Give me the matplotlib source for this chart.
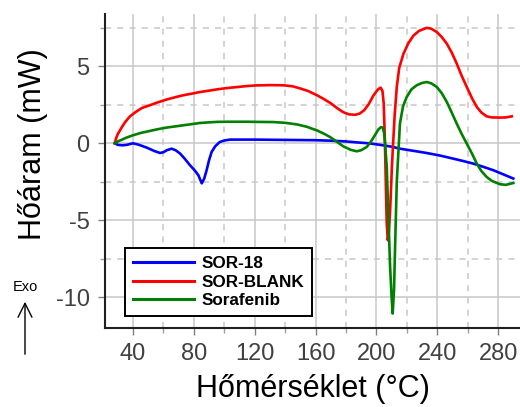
import matplotlib.pyplot as plt
from matplotlib.ticker import MultipleLocator

plt.rcParams['font.family'] = ['Liberation Sans', 'DejaVu Sans']
plt.rcParams['axes.unicode_minus'] = False

# SOR-18
sor18_t = [28, 30, 33, 36, 40, 44, 49, 54, 57.8, 60, 62.2, 65.4, 68, 71, 74, 77.5,
           80.5, 83, 85.2, 86.8, 88.4, 90, 91.7, 94, 97, 100, 103.8, 110, 120, 140,
           160, 170, 180, 187, 195, 202.4, 210, 215.5, 225, 233, 242, 250.6, 257,
           263.7, 270, 276.9, 283, 290]
sor18_q = [0.0, -0.1, -0.13, -0.1, 0.0, -0.1, -0.28, -0.5, -0.63, -0.58, -0.45, -0.35,
           -0.45, -0.67, -1.0, -1.43, -1.75, -2.08, -2.6, -2.3, -1.75, -1.1, -0.56, -0.2,
           0.08, 0.18, 0.24, 0.24, 0.24, 0.22, 0.2, 0.17, 0.12, 0.06, 0.0, -0.1, -0.22,
           -0.35, -0.5, -0.63, -0.8, -1.0, -1.15, -1.32, -1.52, -1.75, -2.0, -2.29]

# SOR-BLANK
blank_t = [28, 29, 30, 31.5, 33, 35, 38, 42, 46, 51, 56, 62, 68, 73, 79, 84, 90, 95,
           101, 108, 115, 121, 130, 139, 145, 150, 155, 161, 165, 170, 174, 178, 182,
           186, 189, 192, 195, 198, 201, 202.8, 204, 204.8, 205.5, 206.2, 206.8, 207.5,
           208.2, 209, 209.6, 210.2, 211, 212, 213.4, 215, 217.8, 221, 224.4, 228, 233,
           236, 239.7, 243, 246.3, 249.5, 252.8, 256, 259.4, 263, 266, 269, 272.5, 276,
           281, 285, 289]
blank_q = [0.0, 0.35, 0.6, 0.85, 1.1, 1.4, 1.75, 2.05, 2.3, 2.47, 2.65, 2.84, 3.0, 3.12,
           3.23, 3.33, 3.42, 3.5, 3.58, 3.65, 3.72, 3.76, 3.78, 3.77, 3.7, 3.56, 3.4,
           3.12, 2.9, 2.6, 2.3, 2.03, 1.88, 1.85, 1.93, 2.15, 2.55, 3.1, 3.5, 3.62, 3.4,
           2.6, 0.5, -2.6, -5.2, -6.3, -5.8, -4.4, -3.0, -1.5, 0.0, 1.8, 3.66, 4.9, 5.82,
           6.5, 7.0, 7.3, 7.5, 7.45, 7.23, 6.9, 6.47, 5.9, 5.18, 4.4, 3.66, 2.9, 2.36,
           2.0, 1.75, 1.68, 1.67, 1.68, 1.75]

# Sorafenib
sora_t = [28, 30, 33, 36, 40, 45, 51, 56, 62, 68, 73, 79, 84, 90, 95, 101, 108, 115,
          122, 132, 140, 147.6, 154, 160.8, 165, 169.5, 174, 178.3, 183, 187, 190, 193.6,
          196, 199, 201.3, 203, 204.2, 205, 205.7, 206.8, 207.9, 209, 210, 210.7, 211.6,
          212.4, 213.4, 214.5, 215.5, 217.5, 219.9, 223, 226.5, 230, 233.1, 236, 239.7,
          243, 246.3, 249.5, 252.8, 256, 259.4, 263, 266, 269, 272.5, 276, 281.3, 285, 290]
sora_q = [0.0, 0.12, 0.25, 0.38, 0.52, 0.67, 0.8, 0.91, 1.02, 1.1, 1.17, 1.25, 1.32, 1.36,
          1.39, 1.4, 1.4, 1.4, 1.39, 1.38, 1.33, 1.23, 1.08, 0.84, 0.65, 0.41, 0.1, -0.2,
          -0.42, -0.52, -0.45, -0.24, 0.05, 0.52, 0.9, 1.05, 1.02, 0.7, 0.0, -1.5, -4.8,
          -8.0, -10.0, -11.06, -9.5, -6.3, -2.5, -0.5, 1.3, 2.4, 3.0, 3.5, 3.77, 3.92,
          3.98, 3.9, 3.66, 3.25, 2.68, 2.0, 1.28, 0.62, -0.02, -0.7, -1.32, -1.8, -2.19,
          -2.45, -2.66, -2.7, -2.58]

fig = plt.figure(figsize=(5.2, 4.07), dpi=100)
ax = fig.add_axes([105 / 520, 79 / 407, 415 / 520, 314 / 407])

ax.plot(sor18_t, sor18_q, color='#0000ff', lw=1.9, label='SOR-18', zorder=3)
ax.plot(blank_t, blank_q, color='#ff0000', lw=1.9, label='SOR-BLANK', zorder=3)
ax.plot(sora_t, sora_q, color='#008000', lw=1.9, label='Sorafenib', zorder=3)

ax.set_xlim(21.6, 294.4)
ax.set_ylim(-12, 8.4)
ax.xaxis.set_major_locator(MultipleLocator(40))
ax.xaxis.set_minor_locator(MultipleLocator(20))
ax.yaxis.set_major_locator(MultipleLocator(5))
ax.yaxis.set_minor_locator(MultipleLocator(2.5))

ax.grid(which='major', color='#c8c8c8', lw=1.1, ls='-')
ax.grid(which='minor', color='#c8c8c8', lw=1.1, ls=(0, (4, 4)))
ax.set_axisbelow(True)

for s in ['top', 'right']:
    ax.spines[s].set_visible(False)
for s in ['left', 'bottom']:
    ax.spines[s].set_linewidth(1.5)
    ax.spines[s].set_color('#202020')

ax.tick_params(which='major', length=5, width=1, color='#808080',
               labelsize=17, labelcolor='#404040', pad=6)
ax.tick_params(which='minor', length=3.5, width=1, color='#a0a0a0')

ax.set_xlabel('Hőmérséklet (°C)', fontsize=22)
ax.set_ylabel('Hőáram (mW)', fontsize=22)
ax.xaxis.set_label_coords(0.5, -0.145)
ax.yaxis.set_label_coords(-0.138, 0.584)

leg = ax.legend(loc='lower left', bbox_to_anchor=(0.048, 0.038), borderaxespad=0,
                fancybox=False, edgecolor='black', framealpha=1,
                prop={'weight': 'bold', 'size': 12.3}, handlelength=3.6,
                handletextpad=0.45, labelspacing=0.22, borderpad=0.45)
leg.get_frame().set_linewidth(1.4)
for line in leg.get_lines():
    line.set_linewidth(2.2)

fig.text(25 / 520, 120 / 407, 'Exo', fontsize=10.5, ha='center', va='center')
ax.annotate('', xy=(25 / 520, 108 / 407), xytext=(25 / 520, 50 / 407),
            xycoords='figure fraction', textcoords='figure fraction',
            arrowprops=dict(arrowstyle='->,head_length=1.0,head_width=0.5', lw=1, color='black'))

fig.savefig('out.png', dpi=100)
